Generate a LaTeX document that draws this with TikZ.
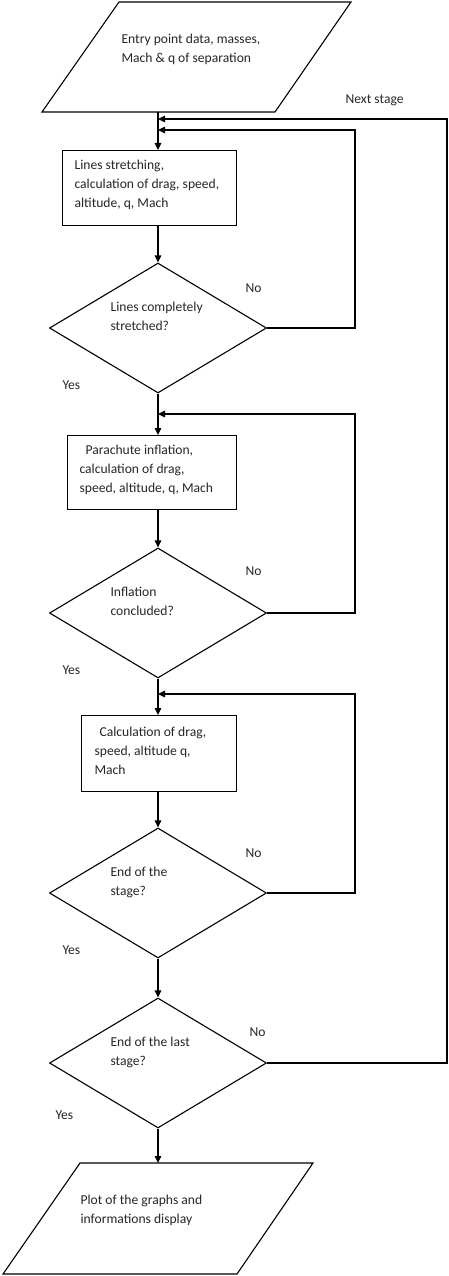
\documentclass[tikz,border=0pt]{standalone}
\usepackage{fontspec}
\setmainfont{Carlito}
\usetikzlibrary{arrows.meta,shapes.geometric}
\begin{document}
\begin{tikzpicture}[x=1pt,y=-1pt,
  line width=1.1pt,
  txt/.style={inner sep=0pt,align=left,anchor=west,text=black!85,font=\fontsize{13.6}{19}\selectfont},
  procbox/.style={draw,rectangle,inner sep=0pt,anchor=north west},
  decision/.style={draw,diamond,inner sep=0pt,minimum width=217pt,minimum height=130pt},
  arr/.style={-{Triangle[length=7pt,width=6.5pt]}}]
\useasboundingbox (0,0) rectangle (448,1276);
% input parallelogram
\draw (119,2) -- (351,2) -- (275,112) -- (42,112) -- cycle;
\coordinate (in1b) at (158,112);
\node[txt] (tin) at (121,49.5) {Entry point data, masses,\\Mach \& q of separation};
\node[txt] (tnext) at (345,100) {Next stage};
% joins
\coordinate (j0) at (158,119);
\coordinate (j1) at (158,130);
\coordinate (j2) at (158,414);
\coordinate (j3) at (158,694);
% box 1
\node[procbox,minimum width=174pt,minimum height=75pt] (b1) at (62,150) {};
\node[txt] (tb1) at (74,185) {Lines stretching,\\calculation of drag, speed,\\altitude, q, Mach};
% diamond 1
\node[decision] (d1) at (158,328) {};
\node[txt] (td1) at (110,316.5) {Lines completely\\stretched?};
\node[txt] (no1) at (245,288) {No};
\node[txt] (yes1) at (62,385) {Yes};
% box 2
\node[procbox,minimum width=169pt,minimum height=74pt] (b2) at (67,435) {};
\node[txt] (tb2) at (79,470) {\hspace*{6pt}Parachute inflation,\\calculation of drag,\\speed, altitude, q, Mach};
% diamond 2
\node[decision] (d2) at (158,613) {};
\node[txt] (td2) at (110,601.5) {Inflation\\concluded?};
\node[txt] (no2) at (245,571) {No};
\node[txt] (yes2) at (62,670) {Yes};
% box 3
\node[procbox,minimum width=155pt,minimum height=76pt] (b3) at (81,715) {};
\node[txt] (tb3) at (94,751) {\hspace*{5pt}Calculation of drag,\\speed, altitude q,\\Mach};
% diamond 3
\node[decision] (d3) at (158,893) {};
\node[txt] (td3) at (110,882.5) {End of the\\stage?};
\node[txt] (no3) at (245,853) {No};
\node[txt] (yes3) at (62,950) {Yes};
% diamond 4
\node[decision] (d4) at (158,1063) {};
\node[txt] (td4) at (110,1052) {End of the last\\stage?};
\node[txt] (no4) at (249,1032) {No};
\node[txt] (yes4) at (55,1115) {Yes};
% output parallelogram
\draw (80,1163) -- (313,1163) -- (237,1274) -- (3,1274) -- cycle;
\coordinate (outt) at (158,1163);
\node[txt] (tout) at (80,1210.5) {Plot of the graphs and\\informations display};
% connectors
\draw[arr] (in1b) -- (b1.north -| in1b);
\draw[arr] (b1.south -| d1.north) -- (d1.north);
\draw[arr] (d1.south) -- (b2.north -| d1.south);
\draw[arr] (b2.south -| d2.north) -- (d2.north);
\draw[arr] (d2.south) -- (b3.north -| d2.south);
\draw[arr] (b3.south -| d3.north) -- (d3.north);
\draw[arr] (d3.south) -- (d4.north);
\draw[arr] (d4.south) -- (outt);
\draw[arr] (d1.east) -- (355,328) |- (j1);
\draw[arr] (d2.east) -- (355,613) |- (j2);
\draw[arr] (d3.east) -- (355,893) |- (j3);
\draw[arr] (d4.east) -- (447,1063) |- (j0);
\end{tikzpicture}
\end{document}
